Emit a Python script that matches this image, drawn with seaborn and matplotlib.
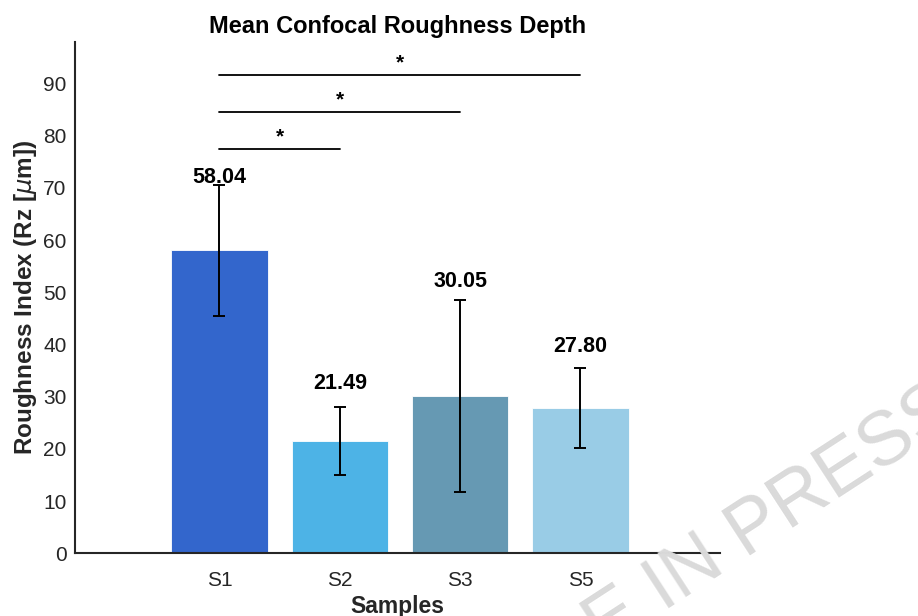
import matplotlib
matplotlib.use("Agg")
import matplotlib.pyplot as plt
import seaborn as sns
import pandas as pd

# bar data
samples = ["S1", "S2", "S3", "S5"]
means = [58.04, 21.49, 30.05, 27.80]
sds = [12.5, 6.5, 18.4, 7.6]
bar_colors = ["#3366CC", "#4DB3E6", "#6699B3", "#99CCE6"]

# significance brackets (index pairs into samples)
sig_pairs = [(0, 1), (0, 2), (0, 3)]
sig_labels = ["*", "*", "*"]

df = pd.DataFrame({"Sample": samples, "Rz": means})

sns.set_theme(style="white")
plt.rcParams["font.family"] = ["Liberation Sans", "DejaVu Sans"]
plt.rcParams["mathtext.fontset"] = "dejavusans"

dark = "#262626"
fig = plt.figure(figsize=(9.18, 6.16), dpi=100)
ax = fig.add_axes([0.0817, 0.1018, 0.7027, 0.8305])

sns.barplot(data=df, x="Sample", y="Rz", hue="Sample", palette=bar_colors,
            legend=False, width=0.8, saturation=1, ax=ax,
            edgecolor="white", linewidth=0.6)

xs = ax.get_xticks()
ax.errorbar(xs, means, yerr=sds, fmt="none", ecolor="black",
            elinewidth=1.4, capsize=4, capthick=1.4, zorder=5)

# value labels above the error bars
label_off = [1.4, 4.6, 3.7, 4.3]
for x, m, s, o in zip(xs, means, sds, label_off):
    ax.text(x, m + s + o, f"{m:.2f}", ha="center", va="center",
            fontsize=15.5, fontweight="bold", color="black", zorder=6)

# significance lines
base = max(m + s for m, s in zip(means, sds)) + 7
for k, ((i, j), lab) in enumerate(zip(sig_pairs, sig_labels)):
    y = base + 7 * k
    ax.plot([xs[i], xs[j]], [y, y], color="black", lw=1.3)
    ax.text((xs[i] + xs[j]) / 2, y + 0.5, lab, ha="center", va="bottom",
            fontsize=15, fontweight="bold", color="black")

ax.set_xlim(-1.2, 4.16)
ax.set_ylim(0, 98)
ax.set_yticks(range(0, 100, 10))
sns.despine(ax=ax)
for sp in ["left", "bottom"]:
    ax.spines[sp].set_color(dark)
    ax.spines[sp].set_linewidth(1.5)
ax.tick_params(direction="in", length=5, width=1.2, colors=dark,
               labelsize=15)
ax.tick_params(axis="x", pad=13)
ax.tick_params(axis="y", pad=6)
for t in ax.get_xticklabels() + ax.get_yticklabels():
    t.set_color(dark)

ax.set_title("Mean Confocal Roughness Depth", fontsize=17, fontweight="bold",
             color="black", pad=6)
ax.set_xlabel("Samples", fontsize=16.5, fontweight="bold", color=dark, labelpad=3)
ax.set_ylabel(r"Roughness Index (Rz [$\mu$m])", fontsize=17.5,
              fontweight="bold", color=dark, labelpad=3)

# watermark
fig.text(0.41, -0.295, "ARTICLE IN PRESS", fontsize=55, color="#dadada",
         rotation=33, rotation_mode="anchor", ha="left", va="baseline",
         zorder=10)

fig.savefig("out.png", dpi=100)
